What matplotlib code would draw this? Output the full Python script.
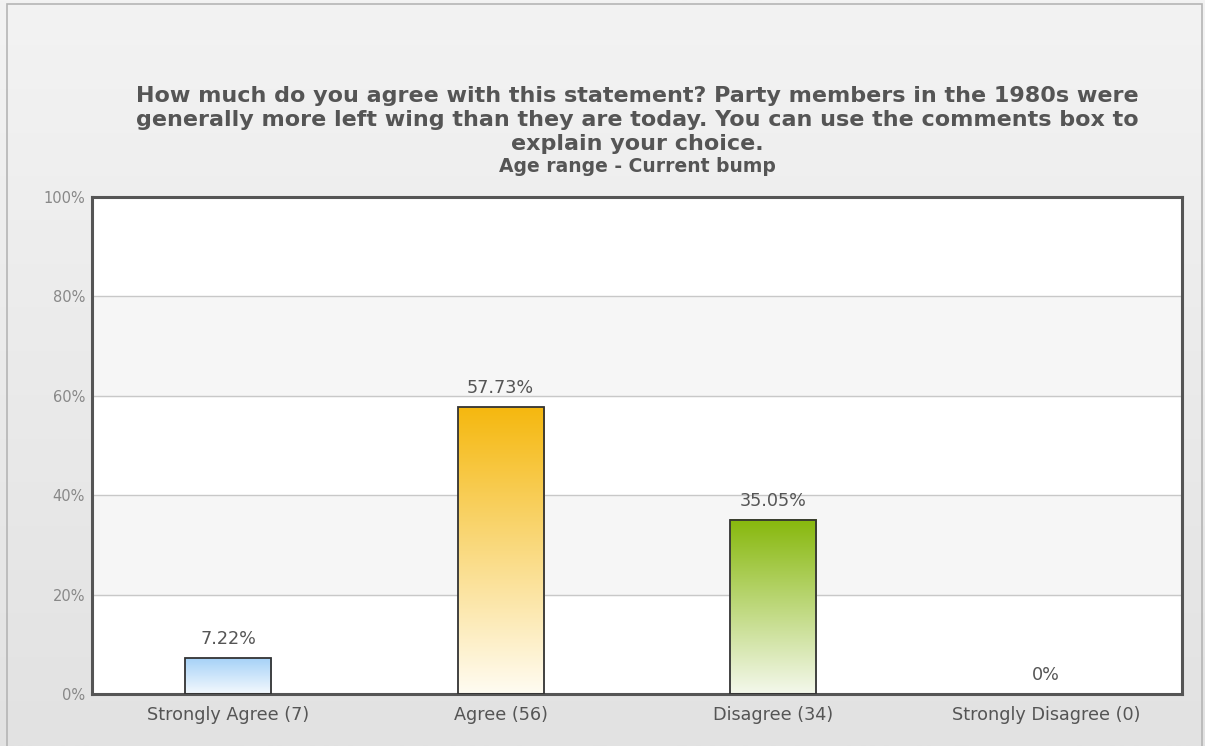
import matplotlib
matplotlib.use("Agg")
import matplotlib.pyplot as plt
import numpy as np
from matplotlib.colors import LinearSegmentedColormap
from matplotlib.patches import Rectangle

categories = ["Strongly Agree (7)", "Agree (56)", "Disagree (34)", "Strongly Disagree (0)"]
percents = [7.22, 57.73, 35.05, 0.0]
value_labels = ["7.22%", "57.73%", "35.05%", "0%"]
top_colors = ["#a6d2f7", "#f5b80f", "#87b80c", "#cccccc"]
bottom_colors = ["#f4f9fe", "#fffcf2", "#f4f8ec", "#ffffff"]
yticks = [0, 20, 40, 60, 80, 100]

fig = plt.figure(figsize=(12.05, 7.46), dpi=100)

# background panel with vertical gradient
bg = fig.add_axes([0, 0, 1, 1], zorder=-10)
grad = np.linspace(0, 1, 256).reshape(-1, 1)
bg_cmap = LinearSegmentedColormap.from_list("bg", ["#f3f3f3", "#e2e2e2"])
bg.imshow(grad, aspect="auto", cmap=bg_cmap, extent=[0, 1, 0, 1], origin="upper")
bg.set_xlim(0, 1)
bg.set_ylim(0, 1)
bg.axis("off")
bg.add_patch(Rectangle((7 / 1205, -0.01), (1202 - 7) / 1205, (742 / 746) + 0.01, fill=False,
                       edgecolor="#b5b5b5", linewidth=1.2, transform=bg.transAxes))

# plot area
L, R, T, B = 92, 1182, 197, 694
ax = fig.add_axes([L / 1205, 1 - B / 746, (R - L) / 1205, (B - T) / 746])

# alternating bands
for i in range(5):
    ax.axhspan(i * 20, (i + 1) * 20, color="#ffffff" if i % 2 == 0 else "#f6f6f6", zorder=0)
for y in yticks[1:-1]:
    ax.axhline(y, color="#c8c8c8", linewidth=1, zorder=1)

width = 0.316
x = np.arange(len(categories))
for xi, p, c1, c2, lab in zip(x, percents, top_colors, bottom_colors, value_labels):
    if p > 0:
        cmap = LinearSegmentedColormap.from_list("bar", [c2, c1])
        ax.imshow(np.linspace(0, 1, 256).reshape(-1, 1), aspect="auto", cmap=cmap,
                  extent=[xi - width / 2, xi + width / 2, 0, p], origin="lower", zorder=2)
        ax.bar(xi, p, width=width, fill=False, edgecolor="#333333", linewidth=1.3, zorder=3)
    ax.text(xi, p + 2.0, lab, ha="center", va="bottom", fontsize=12.7, color="#555555", zorder=4)

ax.set_xlim(-0.5, len(categories) - 0.5)
ax.set_ylim(0, 100)
ax.set_xticks(x)
ax.set_xticklabels(categories, fontsize=12.7, color="#555555")
ax.set_yticks(yticks)
ax.set_yticklabels([f"{v}%" for v in yticks], fontsize=10.5, color="#888888")
ax.tick_params(axis="x", length=0, pad=9)
ax.tick_params(axis="y", length=0, pad=5)
for s in ax.spines.values():
    s.set_color("#555555")
    s.set_linewidth(2.2)

cx = 637 / 1205
fig.text(cx, 1 - 120 / 746,
         "How much do you agree with this statement? Party members in the 1980s were\n"
         "generally more left wing than they are today. You can use the comments box to\n"
         "explain your choice.",
         ha="center", va="center", fontsize=16, fontweight="bold", color="#555555",
         linespacing=1.26)
fig.text(cx, 1 - 167 / 746, "Age range - Current bump", ha="center", va="center",
         fontsize=13.5, fontweight="bold", color="#555555")

fig.savefig("out.png", dpi=100)
